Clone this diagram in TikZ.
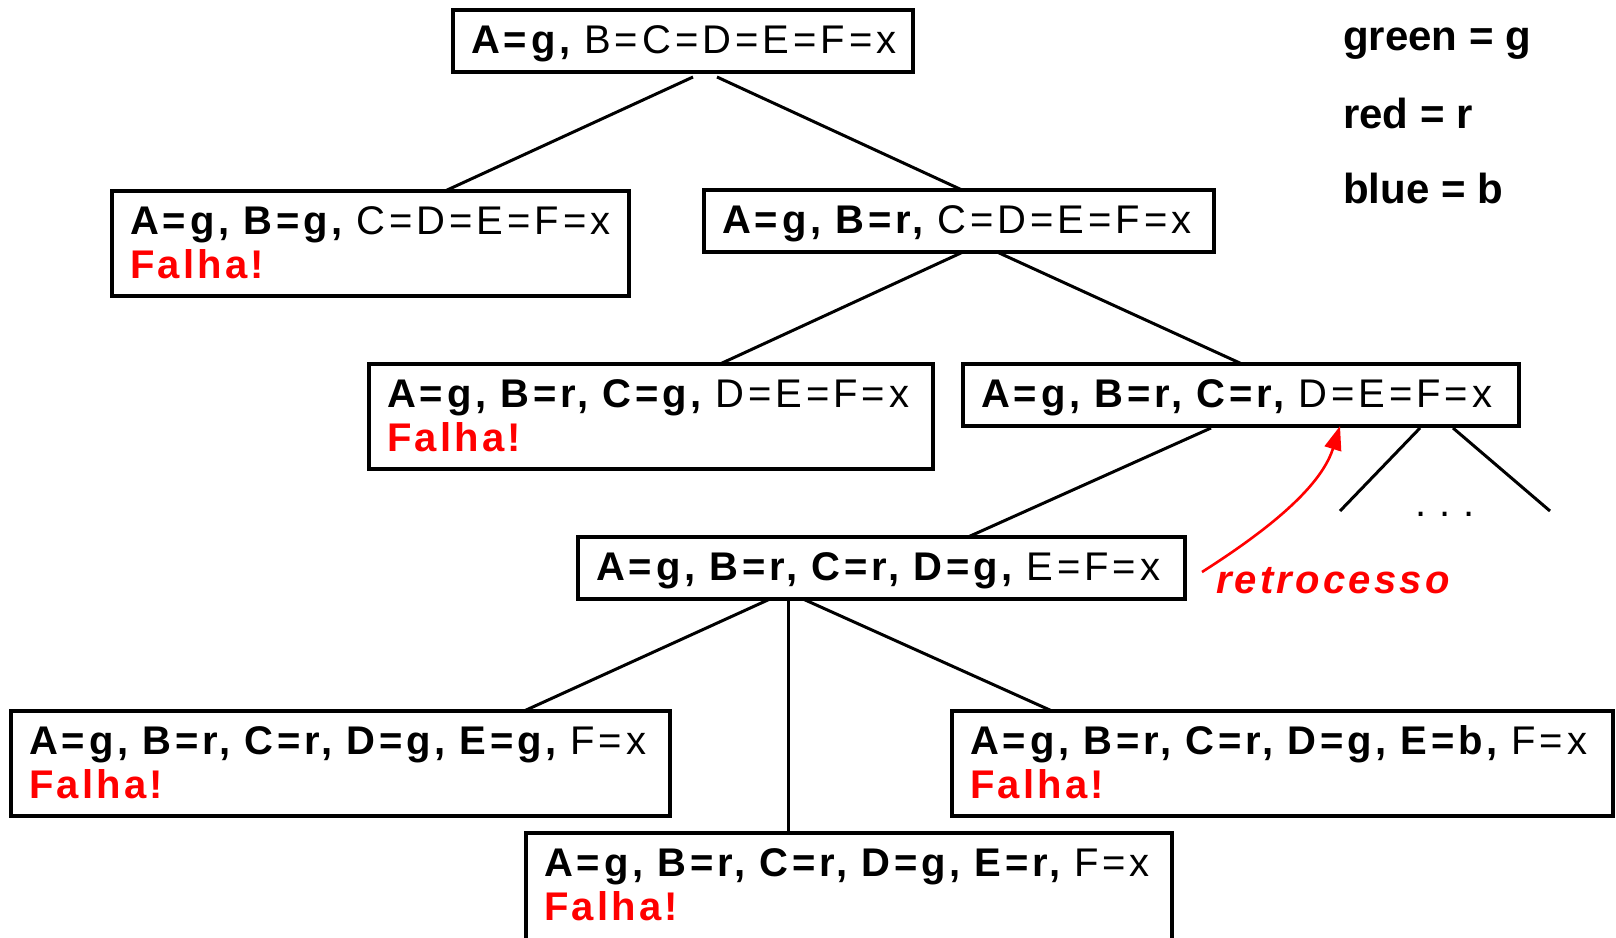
\documentclass[tikz,border=0pt]{standalone}
\usepackage{fontspec}
\setmainfont{Liberation Sans}
\newfontfamily\boxfont[LetterSpace=10]{Liberation Sans}
\newfontfamily\notefont[LetterSpace=8]{Liberation Sans}
\usetikzlibrary{arrows.meta}

\tikzset{
  box/.style={draw, line width=3.3pt, anchor=north west, outer sep=0pt,
    inner xsep=18pt, inner ysep=15pt, text height=28pt, align=left,
    font=\boxfont\fontsize{40}{44}\selectfont},
  onerow/.style={box, text depth=4pt},
  tworow/.style={box, text depth=47pt},
  link/.style={line width=3pt},
  legend/.style={anchor=base west, inner sep=0pt,
    font=\bfseries\fontsize{42}{46}\selectfont},
  backlabel/.style={anchor=base west, inner sep=0pt, text=red,
    font=\notefont\bfseries\itshape\fontsize{40}{44}\selectfont},
  backarrow/.style={draw=red, line width=2.6pt,
    -{Triangle[length=24pt,width=17pt]}}
}
\newcommand{\fail}{\mbox{\notefont\textcolor{red}{\bfseries Falha!}}}

\begin{document}
\begin{tikzpicture}[x=1pt,y=-1pt]
\useasboundingbox (0,0) rectangle (1616,937);

% search tree states
\node[onerow, text width=424pt] (n1) at (453,10)
  {\mbox{{\bfseries A=g,} B=C=D=E=F=x}};
\node[tworow, text width=481pt] (n2) at (112,191)
  {\mbox{{\bfseries A=g, B=g,} C=D=E=F=x}\\\fail};
\node[onerow, text width=474pt] (n3) at (704,190)
  {\mbox{{\bfseries A=g, B=r,} C=D=E=F=x}};
\node[tworow, text width=528pt] (n4) at (369,364)
  {\mbox{{\bfseries A=g, B=r, C=g,} D=E=F=x}\\\fail};
\node[onerow, text width=520pt] (n5) at (963,364)
  {\mbox{{\bfseries A=g, B=r, C=r,} D=E=F=x}};
\node[onerow, text width=571pt] (n6) at (578,537)
  {\mbox{{\bfseries A=g, B=r, C=r, D=g,} E=F=x}};
\node[tworow, text width=623pt] (n7) at (11,711)
  {\mbox{{\bfseries A=g, B=r, C=r, D=g, E=g,} F=x}\\\fail};
\node[tworow, text depth=62pt, text width=610pt] (n8) at (526,833)
  {\mbox{{\bfseries A=g, B=r, C=r, D=g, E=r,} F=x}\\\fail};
\node[tworow, text width=625pt] (n9) at (952,711)
  {\mbox{{\bfseries A=g, B=r, C=r, D=g, E=b,} F=x}\\\fail};

% unexplored branches below n5
\coordinate (l5) at (1340,511);
\coordinate (r5) at (1550,511);
\node[inner sep=0pt, font=\fontsize{40}{44}\selectfont] (dots) at (1445,514)
  {.\hskip13pt.\hskip13pt.};

% tree edges
\draw[link] ([xshift=240pt,yshift=-5pt]n1.south west) -- ([xshift=333pt]n2.north west);
\draw[link] ([xshift=264pt,yshift=-5pt]n1.south west) -- ([xshift=258pt]n3.north west);
\draw[link] ([xshift=259pt]n3.south west) -- ([xshift=351pt]n4.north west);
\draw[link] ([xshift=293pt]n3.south west) -- ([xshift=279pt]n5.north west);
\draw[link] ([xshift=248pt,yshift=-2pt]n5.south west) -- ([xshift=390pt]n6.north west);
\draw[link] ([xshift=457pt,yshift=-2pt]n5.south west) -- (l5);
\draw[link] ([xshift=490pt,yshift=-2pt]n5.south west) -- (r5);
\draw[link] ([xshift=192pt]n6.south west) -- ([xshift=513pt]n7.north west);
\draw[link] ([xshift=210pt]n6.south west) -- ([xshift=262pt]n8.north west);
\draw[link] ([xshift=225pt]n6.south west) -- ([xshift=100pt]n9.north west);

% backtracking
\node[backlabel] (back) at (1216,593) {retrocesso};
\coordinate (backstart) at ([xshift=-14pt,yshift=21pt]back.base west);
\draw[backarrow] (backstart) .. controls (1260,535) and (1320,490) ..
  ([xshift=377pt]n5.south west);

% colour legend
\node[legend] (lg) at (1343,50) {green = g};
\node[legend] (lr) at (1343,128) {red = r};
\node[legend] (lb) at (1343,203) {blue = b};
\end{tikzpicture}
\end{document}
